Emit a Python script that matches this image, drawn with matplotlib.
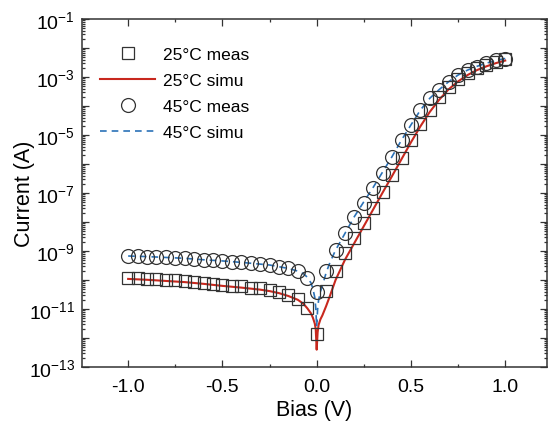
import math
import matplotlib
matplotlib.use("Agg")
import matplotlib.pyplot as plt
from matplotlib.ticker import LogLocator, FixedLocator, NullFormatter, FuncFormatter

plt.rcParams["font.family"] = ["Liberation Sans", "DejaVu Sans"]
plt.rcParams["mathtext.fontset"] = "custom"
plt.rcParams["mathtext.rm"] = "Liberation Sans"
plt.rcParams["mathtext.it"] = "Liberation Sans:italic"
plt.rcParams["mathtext.bf"] = "Liberation Sans:bold"
plt.rcParams["axes.unicode_minus"] = False

# measured sweep, V
meas_bias = [-1.0, -0.95, -0.9, -0.85, -0.8, -0.75, -0.7, -0.65, -0.6, -0.55,
             -0.5, -0.45, -0.4, -0.35, -0.3, -0.25, -0.2, -0.15, -0.1, -0.05,
             0.0, 0.05, 0.1, 0.15, 0.2, 0.25, 0.3, 0.35, 0.4, 0.45,
             0.5, 0.55, 0.6, 0.65, 0.7, 0.75, 0.8, 0.85, 0.9, 0.95, 1.0]

# log10 of current (A)
meas25_log = [-9.92, -9.94, -9.95, -9.97, -9.99, -10.01, -10.03, -10.06, -10.10, -10.14,
              -10.17, -10.19, -10.22, -10.26, -10.29, -10.33, -10.40, -10.50, -10.66, -10.95,
              -11.85, -10.38, -9.70, -9.08, -8.56, -8.02, -7.52, -6.96, -6.38, -5.80,
              -5.18, -4.62, -4.14, -3.68, -3.33, -3.08, -2.87, -2.70, -2.58, -2.47, -2.37]
meas45_log = [-9.17, -9.18, -9.19, -9.20, -9.22, -9.23, -9.25, -9.27, -9.30, -9.32,
              -9.34, -9.37, -9.39, -9.42, -9.45, -9.48, -9.54, -9.60, -9.68, -9.92,
              -10.42, -9.68, -8.97, -8.39, -7.81, -7.34, -6.84, -6.30, -5.74, -5.17,
              -4.65, -4.14, -3.73, -3.45, -3.16, -2.93, -2.76, -2.64, -2.52, -2.42, -2.38]

sim_bias = [-1.0, -0.9, -0.8, -0.7, -0.6, -0.5, -0.4, -0.3, -0.25, -0.2,
            -0.15, -0.1, -0.07, -0.05, -0.03, -0.02, -0.01, -0.005, 0.0,
            0.005, 0.01, 0.02, 0.03, 0.05, 0.07, 0.1, 0.15, 0.2, 0.25,
            0.3, 0.35, 0.4, 0.45, 0.5, 0.55, 0.6, 0.65, 0.7, 0.75,
            0.8, 0.85, 0.9, 0.95, 1.0]
sim25_log = [-9.96, -9.99, -10.03, -10.07, -10.13, -10.20, -10.26, -10.33, -10.38, -10.45,
             -10.55, -10.68, -10.82, -10.97, -11.15, -11.30, -11.50, -11.70, -12.40,
             -11.80, -11.55, -11.35, -11.22, -10.90, -10.55, -10.00, -9.30, -8.72, -8.14,
             -7.56, -6.98, -6.41, -5.83, -5.25, -4.70, -4.20, -3.78, -3.42, -3.15,
             -2.93, -2.76, -2.63, -2.52, -2.43]
sim45_log = [-9.17, -9.19, -9.22, -9.25, -9.30, -9.34, -9.39, -9.45, -9.48, -9.54,
             -9.60, -9.69, -9.78, -9.90, -10.10, -10.30, -10.60, -10.95, -11.60,
             -11.00, -10.70, -10.40, -10.20, -9.75, -9.40, -8.97, -8.39, -7.81, -7.30,
             -6.80, -6.27, -5.74, -5.17, -4.65, -4.14, -3.73, -3.43, -3.16, -2.93,
             -2.76, -2.63, -2.52, -2.43, -2.36]

x_ticks = [-1.0, -0.5, 0.0, 0.5, 1.0]
x_minor = [-0.75, -0.25, 0.25, 0.75]
labels = ["25\u00b0C meas", "25\u00b0C simu", "45\u00b0C meas", "45\u00b0C simu"]


def to_amp(logs):
    return [10.0 ** v for v in logs]


fig = plt.figure(figsize=(5.5, 4.27), dpi=100)
ax = fig.add_axes([0.149, 0.138, 0.845, 0.815])

red = "#c8281e"
blue = "#2b72b8"
edge = "#333333"

l25, = ax.plot(sim_bias, to_amp(sim25_log), color=red, lw=1.5, zorder=2)
l45, = ax.plot(sim_bias, to_amp(sim45_log), color=blue, lw=1.2,
               ls=(0, (4, 3)), zorder=2)
m25, = ax.plot(meas_bias, to_amp(meas25_log), ls="none", marker="s", ms=8.3,
               mfc="none", mec=edge, mew=0.9, zorder=3)
m45, = ax.plot(meas_bias, to_amp(meas45_log), ls="none", marker="o", ms=10,
               mfc="none", mec=edge, mew=0.9, zorder=3)

ax.set_yscale("log")
ax.set_ylim(1e-13, 1e-1)
ax.set_xlim(-1.245, 1.22)

ax.xaxis.set_major_locator(FixedLocator(x_ticks))
ax.xaxis.set_minor_locator(FixedLocator(x_minor))
ax.xaxis.set_major_formatter(FuncFormatter(lambda v, p: f"{v:.1f}"))

ax.yaxis.set_major_locator(LogLocator(base=10, numticks=20))
ax.yaxis.set_minor_locator(LogLocator(base=10, subs=range(2, 10), numticks=20))
ax.yaxis.set_minor_formatter(NullFormatter())


def ylab(v, p):
    e = int(round(math.log10(v)))
    return f"$10^{{{e}}}$" if e % 2 else ""


ax.yaxis.set_major_formatter(FuncFormatter(ylab))

ax.tick_params(which="both", direction="in", top=True, right=True,
               width=0.9, colors="#333333", labelcolor="black")
ax.tick_params(which="major", length=5, labelsize=14)
ax.tick_params(axis="x", which="major", pad=8)
ax.tick_params(axis="y", which="major", pad=5)
ax.tick_params(which="minor", length=2.5)
for s in ax.spines.values():
    s.set_linewidth(1.1)
    s.set_color("#333333")

ax.set_xlabel("Bias (V)", fontsize=15.5, labelpad=3)
ax.set_ylabel("Current (A)", fontsize=15.5)
ax.yaxis.set_label_coords(-0.10, 0.5)

ax.legend([m25, l25, m45, l45], labels, loc="upper left",
          bbox_to_anchor=(0.005, 0.965), frameon=False, fontsize=12.5,
          handlelength=3.2, handletextpad=0.45, labelspacing=0.62)

fig.savefig("out.png", dpi=100)
